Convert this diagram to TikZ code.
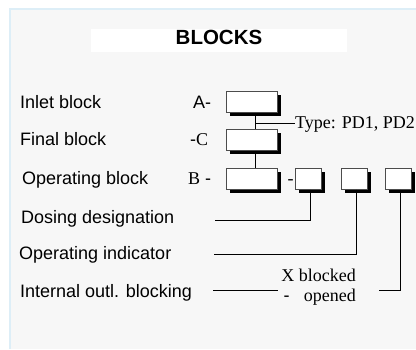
\documentclass[tikz,border=0pt]{standalone}
\usepackage{fontspec}
\setmainfont{Liberation Serif}
\newfontfamily\arialf{Liberation Sans}
\usetikzlibrary{shadows}
\definecolor{panel}{HTML}{F7F7F7}
\definecolor{panelrim}{HTML}{DDEEF7}
\begin{document}
\begin{tikzpicture}[x=1pt,y=-1pt,
 sans/.style={font=\arialf\fontsize{18}{20}\selectfont, inner sep=0pt, anchor=base west},
 serif/.style={font=\fontsize{18}{20}\selectfont, inner sep=0pt, anchor=base west},
 blk/.style={draw=black!70, fill=white, line width=0.8pt, minimum width=51pt, minimum height=21pt, inner sep=0pt,
   drop shadow={shadow xshift=3.5pt, shadow yshift=-3.5pt, fill=black, opacity=1}},
 sblk/.style={blk, minimum width=26pt},
 conn/.style={line width=0.9pt}]
\useasboundingbox (0,0) rectangle (416,349);
\fill[white] (0,0) rectangle (416,349);
\fill[panel] (9,8) rectangle (416,349);
\draw[panelrim, line width=1.5pt] (9.75,349) -- (9.75,8.75) -- (416,8.75);
% title
\node[fill=white, minimum width=256pt, minimum height=23pt, inner sep=0pt] (title) at (219,40.5) {};
\node[font=\arialf\bfseries\fontsize{20.5}{22}\selectfont, anchor=base, inner sep=0pt] (tt) at (219,44) {BLOCKS};
% left labels
\node[sans] (l1) at (20,108.3) {Inlet block};
\node[sans] (l2) at (20,145) {Final block};
\node[sans] (l3) at (22,184) {Operating block};
\node[sans] (l4) at (21,223) {Dosing designation};
\node[sans] (l5) at (19,259) {Operating indicator};
\node[sans] (l6) at (20,297) {Internal outl. blocking};
% letters
\node[sans] (la) at (193,108.3) {A-};
\node[sans] (lc) at (190,145) {-{\rmfamily C}};
\node[sans] (lb) at (188,184) {{\rmfamily B} -};
% boxes
\node[blk] (A) at (251.5,102) {};
\node[blk] (C) at (251.5,140) {};
\node[blk] (B) at (251.5,178.5) {};
\node[sblk] (s1) at (308.7,178.8) {};
\node[sblk] (s2) at (354.3,178.8) {};
\node[sblk] (s3) at (398,178.8) {};
\node[serif] (dash) at (287.3,184.5) {-};
% type
\node[serif] (type) at (295,128.7) {Type: PD1, PD2};
% connectors
\coordinate (tj) at (255.7,123.3);
\draw[conn] ([xshift=4.2pt]A.south) -- ([xshift=4.2pt]C.north);
\draw[conn] ([xshift=4.2pt]C.south) -- ([xshift=4.2pt]B.north);
\draw[conn] (tj) -- (type.west |- tj);
\coordinate (e1) at (215,220);
\coordinate (e2) at (214,254.7);
\coordinate (e3) at (379,290);
\draw[conn] ([xshift=1.3pt]s1.south) |- (e1);
\draw[conn] ([xshift=1.7pt]s2.south) |- (e2);
\draw[conn] ([xshift=2pt]s3.south) |- (e3);
\coordinate (e4a) at (213,290);
\coordinate (e4b) at (278,290);
\draw[conn] (e4a) -- (e4b);
% blocked / opened
\node[serif, anchor=base east] (xb) at (356,281.7) {X blocked};
\node[serif, anchor=base east] (op) at (356,301.7) {opened};
\node[sans] (od) at (283.5,301.7) {-};
\end{tikzpicture}
\end{document}
